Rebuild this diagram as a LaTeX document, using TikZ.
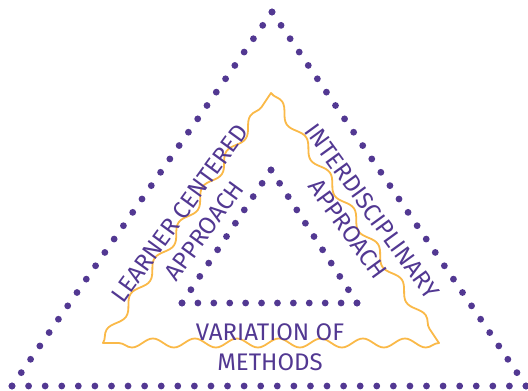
\documentclass[tikz,border=0pt]{standalone}
\usepackage{fontspec}
\setmainfont{Fira Sans}
\usetikzlibrary{calc,decorations.pathmorphing}
\definecolor{dotpurple}{RGB}{82,56,146}
\definecolor{wavyorange}{RGB}{250,185,72}

\begin{document}
\begin{tikzpicture}[x=1pt,y=-1pt,
  dotfill/.style={fill=dotpurple},
  wavy/.style={draw=wavyorange,line width=1.8pt,line cap=round,decorate,
    decoration={snake,segment length=#1,amplitude=4.5pt}},
  sidetext/.style={text=dotpurple,font=\fontsize{24}{30}\selectfont,
    align=center,inner sep=0pt}]

  \useasboundingbox (0,0) rectangle (528,391);

  % outer and inner triangle corners
  \coordinate (top) at (272,12);
  \coordinate (bl) at (12,386);
  \coordinate (br) at (526,386);
  \coordinate (itop) at (271,170);
  \coordinate (ibl) at (182,303);
  \coordinate (ibr) at (357,303);

  % dotted sides
  \foreach \a/\b/\n in {top/bl/28,top/br/28,bl/br/31,itop/ibl/10,itop/ibr/10,ibl/ibr/11}
    \foreach \i in {0,...,\n}
      \fill[dotfill] ($(\a)!\i/\n!(\b)$) circle (3.4pt);

  % wavy middle triangle
  \coordinate (wtop) at (271,93);
  \coordinate (wbl) at (103,343);
  \coordinate (wbr) at (439,343);
  \draw[wavy=42.9pt] (wbl) -- (wtop);
  \draw[wavy=42.9pt] (wtop) -- (wbr);
  \draw[wavy=42pt] (wbr) -- (wbl);

  \node[sidetext,rotate=54] (learner) at (192,222) {LEARNER CENTERED\\APPROACH};
  \node[sidetext,rotate=-54] (inter) at (360,220) {INTERDISCIPLINARY\\APPROACH};
  \node[sidetext] (variation) at (270,347) {VARIATION OF\\METHODS};
\end{tikzpicture}
\end{document}
